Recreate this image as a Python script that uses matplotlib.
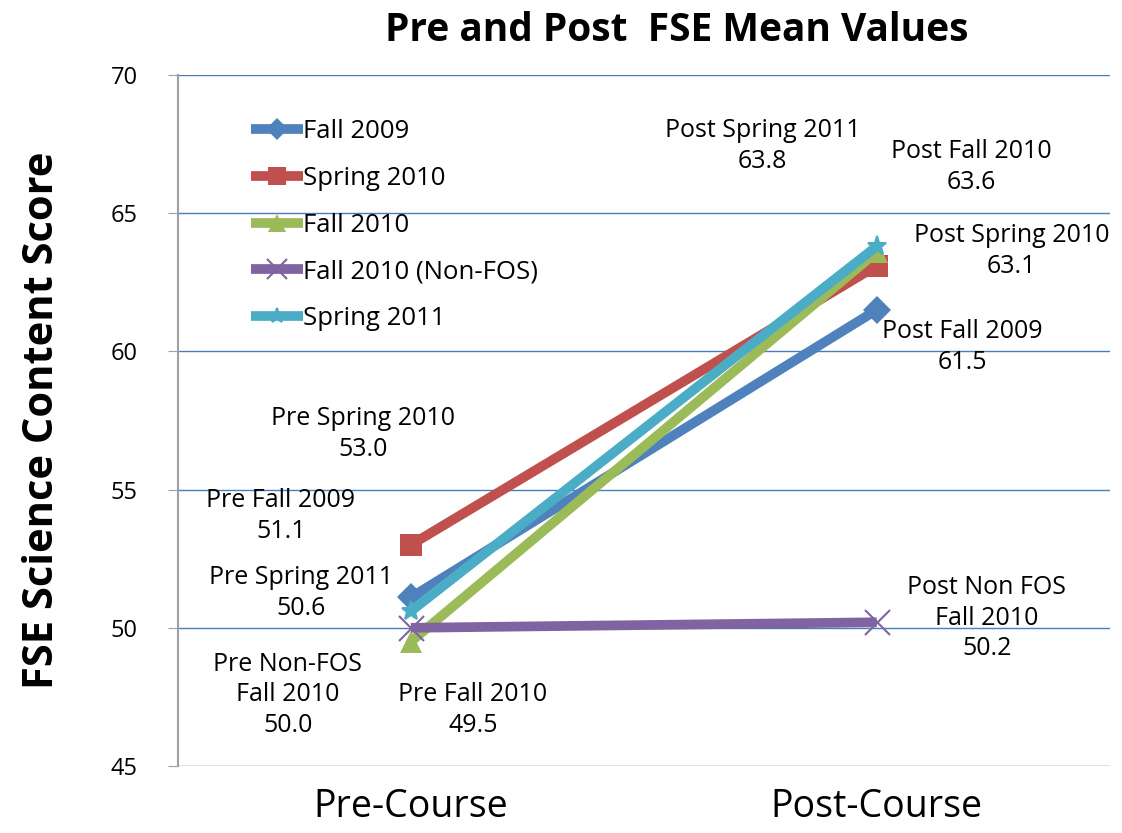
import matplotlib.pyplot as plt
import numpy as np

# data
phases = ["Pre-Course", "Post-Course"]
series_names = ["Fall 2009", "Spring 2010", "Fall 2010", "Fall 2010 (Non-FOS)", "Spring 2011"]
fall_2009 = [51.1, 61.5]
spring_2010 = [53.0, 63.1]
fall_2010 = [49.5, 63.6]
fall_2010_nonfos = [50.0, 50.2]
spring_2011 = [50.6, 63.8]
y_ticks = [45, 50, 55, 60, 65, 70]

# point labels: (text, x, y) in data coords
point_labels = [
    ("Post Spring 2011\n63.8", 0.755, 67.43),
    ("Post Fall 2010\n63.6", 1.204, 66.67),
    ("Post Spring 2010\n63.1", 1.290, 63.63),
    ("Post Fall 2009\n61.5", 1.184, 60.16),
    ("Pre Spring 2010\n53.0", -0.103, 57.01),
    ("Pre Fall 2009\n51.1", -0.279, 54.04),
    ("Pre Spring 2011\n50.6", -0.236, 51.26),
    ("Pre Non-FOS\nFall 2010\n50.0", -0.264, 47.57),
    ("Pre Fall 2010\n49.5", 0.133, 47.03),
    ("Post Non FOS\nFall 2010\n50.2", 1.236, 50.35),
]

COLORS = ["#4F81BD", "#C0504D", "#9BBB59", "#8064A2", "#4BACC6"]
MARKERS = ["D", "s", "^", "x", "*"]
MSIZES = [14, 16, 16, 18, 14]
LW = 7

plt.rcParams['font.family'] = ['Open Sans', 'DejaVu Sans']

fig = plt.figure(figsize=(11.22, 8.33), dpi=100)
ax = fig.add_axes([0.1586, 0.0804, 0.8304, 0.8296])

x = np.arange(len(phases))
all_series = [fall_2009, spring_2010, fall_2010, fall_2010_nonfos, spring_2011]
for i, (name, vals) in enumerate(zip(series_names, all_series)):
    thin = MARKERS[i] in ("x", "*")
    ax.plot(x, vals, color=COLORS[i], lw=LW, marker=MARKERS[i], ms=MSIZES[i],
            mew=1.5 if thin else 0, mec=COLORS[i], label=name, zorder=3 + i,
            solid_capstyle="butt")

for txt, tx, ty in point_labels:
    ax.text(tx, ty, txt, ha="center", va="center", fontsize=18, linespacing=1.3)

ax.set_xlim(-0.5, 1.5)
ax.set_ylim(45, 70)
ax.set_yticks(y_ticks)
ax.set_yticklabels([str(t) for t in y_ticks], fontsize=17)
ax.set_xticks(x)
ax.set_xticklabels(phases, fontsize=27)
ax.tick_params(axis="x", length=0, pad=16)
ax.tick_params(axis="y", length=7, color="#A0A0A0", pad=22)
ax.grid(axis="y", color="#4A7EBB", lw=1)
ax.set_axisbelow(True)
for s in ["top", "right", "bottom"]:
    ax.spines[s].set_visible(False)
ax.spines["left"].set_color("#A0A0A0")
ax.spines["left"].set_linewidth(1.5)

ax.set_ylabel("FSE Science Content Score", fontsize=30, fontweight="bold", labelpad=34)
fig.text(0.603, 0.963, "Pre and Post  FSE Mean Values", ha="center", va="center",
         fontsize=28, fontweight="bold")

leg = ax.legend(loc="upper left", bbox_to_anchor=(0.065, 0.955), frameon=False,
                fontsize=18.5, handlelength=2.0, handletextpad=0.0, labelspacing=0.85,
                markerscale=0.8, borderpad=0)

fig.savefig("out.png", dpi=100)
